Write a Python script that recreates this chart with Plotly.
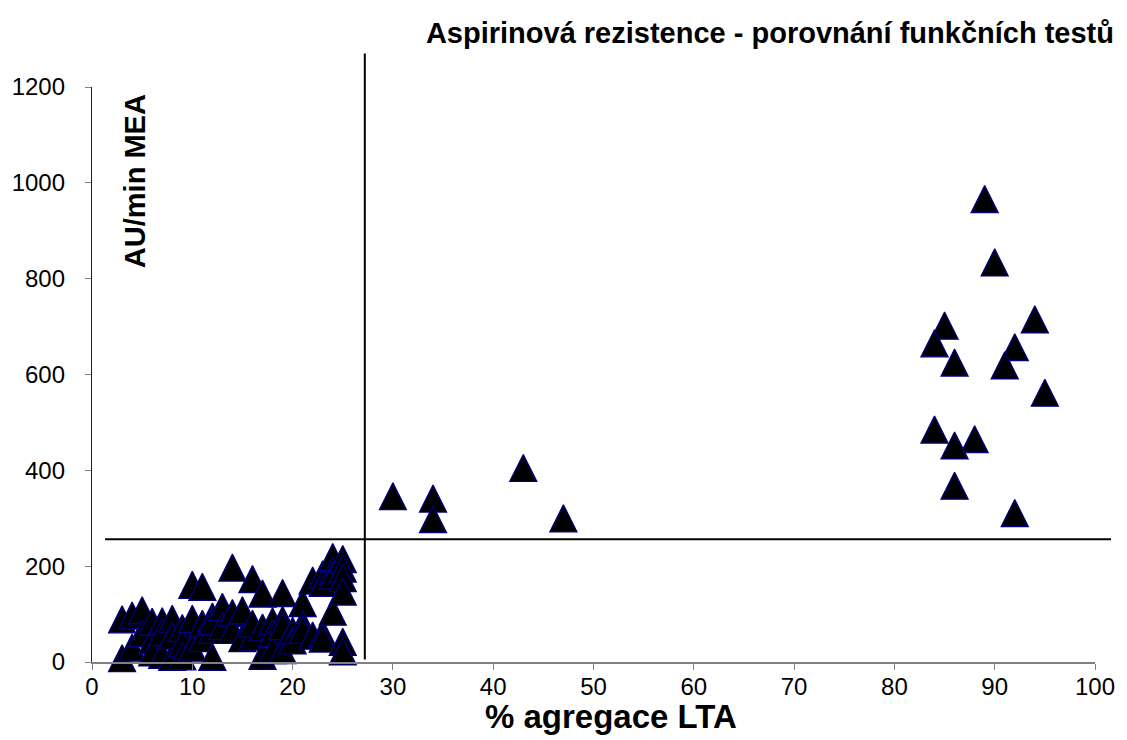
import plotly.graph_objects as go

# ---- data ----
lta_low = [3, 3, 4, 4, 5, 5, 6, 6, 6, 7, 7, 7, 8, 8, 8, 9, 9, 9, 10, 10, 10,
           11, 11, 11, 12, 12, 12, 12, 13, 13, 14, 14, 14, 15, 15, 16, 16, 16,
           17, 17, 17, 18, 18, 18, 19, 19, 19, 19, 20, 20, 21, 21, 21, 22, 22,
           23, 23, 23, 23, 24, 24, 24, 24, 25, 25, 25, 25, 25, 25]
mea_low = [89, 8, 97, 30, 108, 60, 84, 45, 20, 85, 63, 15, 90, 11, 55, 71, 39, 12, 161, 90, 30,
           157, 80, 50, 95, 67, 11, 85, 115, 75, 197, 102, 67, 108, 50, 173, 53, 80,
           143, 72, 13, 85, 60, 25, 144, 88, 25, 75, 65, 45, 123, 80, 67, 170, 55,
           183, 165, 60, 49, 219, 190, 180, 105, 215, 195, 175, 147, 42, 22]

lta_mid = [30, 34, 34, 43, 47]
mea_mid = [346, 341, 298, 405, 300]

lta_high = [89, 90, 94, 85, 84, 86, 92, 91, 95, 84, 88, 86, 86, 92]
mea_high = [966, 834, 715, 702, 665, 625, 657, 619, 562, 485, 465, 452, 368, 311]

x_ticks = [0, 10, 20, 30, 40, 50, 60, 70, 80, 90, 100]
y_ticks = [0, 200, 400, 600, 800, 1000, 1200]

lta_cut = 27.2   # vertical cut-off line (% agregace LTA)
mea_cut = 256    # horizontal cut-off line (AU/min MEA)

title = "Aspirinová rezistence - porovnání funkčních testů"
x_title = "% agregace LTA"
y_title = "AU/min MEA"

# ---- layout geometry ----
W, H = 1127, 740
ML, MR, MT, MB = 88, 28, 87, 78
X_RANGE = [0, 100]
Y_RANGE = [0, 1200]
MARKER = 27
plot_w = W - ML - MR
plot_h = H - MT - MB
# arrow-up marker has its apex at the data point; shift by half its height so the
# triangle is centred on the value (via an overlaid, offset y axis)
offset = (MARKER / 2) * (Y_RANGE[1] - Y_RANGE[0]) / plot_h

FONT = "Arial, 'Liberation Sans', sans-serif"

xs = lta_low + lta_mid + lta_high
ys = mea_low + mea_mid + mea_high

fig = go.Figure()
# empty trace so the visible x/y subplot exists
fig.add_trace(go.Scatter(x=[None], y=[None], mode="markers", showlegend=False,
                         hoverinfo="skip"))
fig.add_trace(go.Scatter(
    x=xs, y=ys, mode="markers", yaxis="y2", cliponaxis=False,
    marker=dict(symbol="arrow-up", size=MARKER, color="black",
                line=dict(color="#000080", width=1.3)),
    showlegend=False, hoverinfo="x+y",
))

xd = lambda v: (v - X_RANGE[0]) / (X_RANGE[1] - X_RANGE[0])
yd = lambda v: (v - Y_RANGE[0]) / (Y_RANGE[1] - Y_RANGE[0])

shapes = [
    dict(type="line", xref="x domain", yref="y domain",
         x0=xd(lta_cut), x1=xd(lta_cut), y0=yd(5), y1=yd(1270),
         line=dict(color="black", width=2)),
    dict(type="line", xref="x domain", yref="y domain",
         x0=xd(1.3), x1=xd(101.6), y0=yd(mea_cut), y1=yd(mea_cut),
         line=dict(color="black", width=2)),
]

fig.update_layout(
    width=W, height=H,
    margin=dict(l=ML, r=MR, t=MT, b=MB, pad=0),
    paper_bgcolor="white", plot_bgcolor="white",
    font=dict(family=FONT, color="black"),
    title=dict(text="<b>" + title + "</b>", x=1114 / W, xanchor="right",
               y=1 - 33 / H, yanchor="middle", xref="container",
               font=dict(size=29, family=FONT, color="black")),
    xaxis=dict(range=X_RANGE, tickvals=x_ticks, ticktext=[str(v) for v in x_ticks],
               showgrid=False, zeroline=False, showline=True, linecolor="#808080",
               linewidth=1.5, ticks="outside", ticklen=6, tickcolor="#808080",
               tickfont=dict(size=24, family=FONT, color="black"),
               ticklabelstandoff=-4),
    yaxis=dict(range=Y_RANGE, tickvals=y_ticks, ticktext=[str(v) for v in y_ticks],
               showgrid=False, zeroline=False, showline=True, linecolor="#222222",
               linewidth=1.3, ticks="outside", ticklen=6, tickcolor="#808080",
               tickfont=dict(size=24, family=FONT, color="black"),
               ticklabelstandoff=15),
    yaxis2=dict(range=[Y_RANGE[0] - offset, Y_RANGE[1] - offset], overlaying="y",
                visible=False, showgrid=False, zeroline=False),
    shapes=shapes,
    annotations=[
        dict(text="<b>" + y_title + "</b>", textangle=-90,
             xref="paper", yref="paper", x=(131 - ML) / plot_w,
             y=(H - MB - 181.5) / plot_h, xanchor="center", yanchor="middle",
             showarrow=False, font=dict(size=29, family=FONT, color="black")),
        dict(text="<b>" + x_title + "</b>",
             xref="paper", yref="paper", x=(611 - ML) / plot_w,
             y=(H - MB - 716) / plot_h, xanchor="center", yanchor="middle",
             showarrow=False, font=dict(size=33, family=FONT, color="black")),
    ],
)

fig.write_html("out.html")
